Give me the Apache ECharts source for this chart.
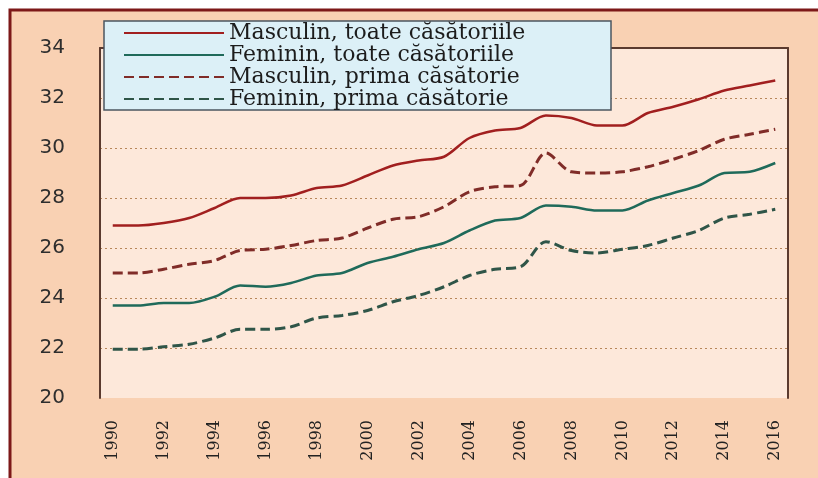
<!DOCTYPE html>
<html>
<head>
<meta charset="utf-8">
<script src="https://cdn.jsdelivr.net/npm/echarts@6/dist/echarts.min.js"></script>
<style>
  html, body { margin: 0; padding: 0; background: #fff; }
  #main { width: 818px; height: 478px; }
</style>
</head>
<body>
<div id="main"></div>
<script>
var years = ['1990','1991','1992','1993','1994','1995','1996','1997','1998','1999','2000','2001','2002','2003',
  '2004','2005','2006','2007','2008','2009','2010','2011','2012','2013','2014','2015','2016'];

var masculinToate = [26.9, 26.9, 27.0, 27.2, 27.6, 28.0, 28.0, 28.1, 28.4, 28.5, 28.9, 29.3, 29.5, 29.65,
  30.4, 30.7, 30.8, 31.3, 31.2, 30.9, 30.9, 31.4, 31.65, 31.95, 32.3, 32.5, 32.7];
var femininToate = [23.7, 23.7, 23.8, 23.8, 24.05, 24.5, 24.45, 24.6, 24.9, 25.0, 25.4, 25.65, 25.95, 26.2,
  26.7, 27.1, 27.2, 27.7, 27.65, 27.5, 27.5, 27.9, 28.2, 28.5, 29.0, 29.05, 29.4];
var masculinPrima = [25.0, 25.0, 25.15, 25.35, 25.5, 25.9, 25.95, 26.1, 26.3, 26.4, 26.8, 27.15, 27.25, 27.65,
  28.25, 28.45, 28.5, 29.8, 29.05, 29.0, 29.05, 29.25, 29.55, 29.9, 30.35, 30.55, 30.75];
var femininPrima = [21.95, 21.95, 22.05, 22.15, 22.4, 22.75, 22.75, 22.85, 23.2, 23.3, 23.5, 23.85, 24.1, 24.45,
  24.9, 25.15, 25.25, 26.25, 25.9, 25.8, 25.95, 26.1, 26.4, 26.7, 27.2, 27.35, 27.55];

var seriesNames = ['Masculin, toate căsătoriile', 'Feminin, toate căsătoriile',
  'Masculin, prima căsătorie', 'Feminin, prima căsătorie'];

var yMin = 20, yMax = 34, yStep = 2;

var frameColor = '#7d1818';
var plotEdge = '#5b3a2e';
var gridDot = '#b8875a';
var noLine = 'rgba(0,0,0,0)';

// dotted lines only inside, not on 20 / 34
var splitColors = [];
for (var v = yMin; v <= yMax; v += yStep) {
  splitColors.push(v === yMin || v === yMax ? noLine : gridDot);
}

var chart = echarts.init(document.getElementById('main'), null, { renderer: 'canvas' });

function mkLine(name, data, color, dashed, w) {
  return {
    name: name,
    type: 'line',
    data: data,
    smooth: 0.3,
    symbol: 'none',
    xAxisIndex: 0,
    yAxisIndex: 0,
    lineStyle: { color: color, width: w, type: dashed ? [10, 5] : 'solid' },
    itemStyle: { color: color },
    emphasis: { disabled: true }
  };
}

chart.setOption({
  animation: false,
  backgroundColor: '#ffffff',
  graphic: [{
    type: 'rect',
    z: -10,
    silent: true,
    shape: { x: 10, y: 10, width: 900, height: 600 },
    style: { fill: '#f9d1b3', stroke: frameColor, lineWidth: 3 }
  }],
  grid: {
    left: 100, top: 48, right: 30, bottom: 80,
    show: true,
    backgroundColor: '#fde8da',
    borderWidth: 0
  },
  legend: {
    orient: 'vertical',
    left: 104,
    top: 21,
    padding: [1, 10, 0, 19],
    itemGap: 0,
    itemWidth: 100,
    itemHeight: 14,
    backgroundColor: '#dcf0f7',
    borderColor: '#4b5660',
    borderWidth: 1.5,
    borderRadius: 0,
    data: seriesNames,
    itemStyle: { opacity: 0 },
    textStyle: {
      fontFamily: 'DejaVu Serif',
      fontSize: 22,
      lineHeight: 22,
      color: '#1c1c1c',
      width: 372
    }
  },
  xAxis: [{
    type: 'category',
    data: years,
    position: 'bottom',
    boundaryGap: true,
    axisLine: { show: false },
    axisTick: { show: false },
    axisLabel: {
      rotate: 90,
      interval: 1,
      margin: 22,
      fontFamily: 'DejaVu Serif',
      fontSize: 16,
      color: '#222'
    }
  }, {
    type: 'category',
    data: years,
    position: 'top',
    axisLine: { show: true, lineStyle: { color: plotEdge, width: 2 } },
    axisTick: { show: false },
    axisLabel: { show: false }
  }],
  yAxis: [{
    type: 'value',
    min: yMin,
    max: yMax,
    interval: yStep,
    axisLine: { show: true, lineStyle: { color: plotEdge, width: 2 } },
    axisTick: { show: false },
    axisLabel: {
      margin: 35,
      fontFamily: 'DejaVu Sans',
      fontSize: 20,
      color: '#2e2e2e'
    },
    splitLine: {
      show: true,
      lineStyle: { color: splitColors, type: [2, 3], width: 1 }
    }
  }, {
    type: 'value',
    min: yMin,
    max: yMax,
    interval: yStep,
    position: 'right',
    axisLine: { show: true, lineStyle: { color: plotEdge, width: 2 } },
    axisTick: { show: false },
    axisLabel: { show: false },
    splitLine: { show: false }
  }],
  series: [
    mkLine(seriesNames[0], masculinToate, '#a11f1f', false, 2.5),
    mkLine(seriesNames[1], femininToate, '#1f6a5a', false, 2.5),
    mkLine(seriesNames[2], masculinPrima, '#802c28', true, 3),
    mkLine(seriesNames[3], femininPrima, '#2f5548', true, 3)
  ]
});
</script>
</body>
</html>
